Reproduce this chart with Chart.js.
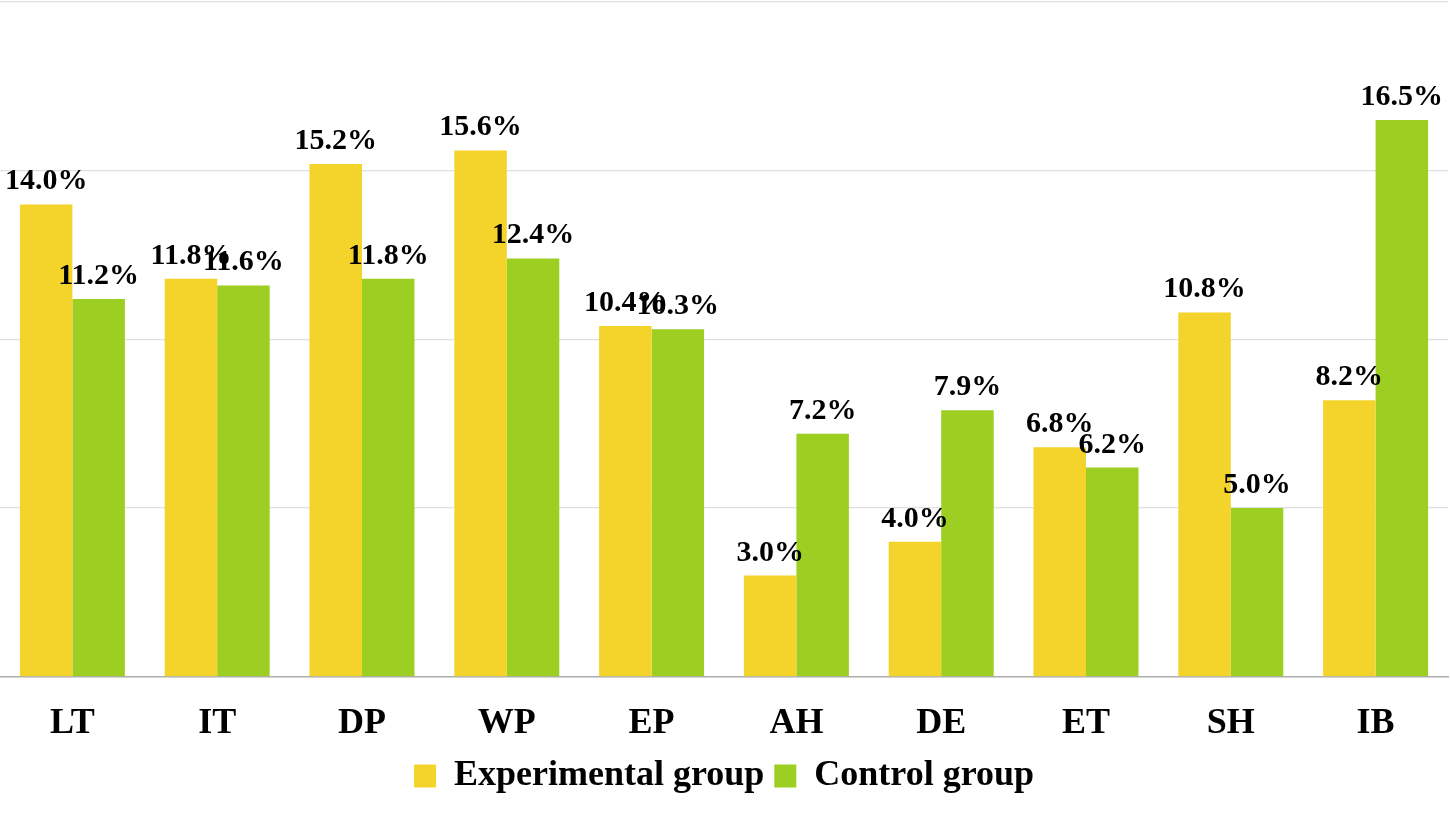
<!DOCTYPE html>
<html>
<head>
<meta charset="utf-8">
<script src="https://cdn.jsdelivr.net/npm/chart.js@4.4.1/dist/chart.umd.min.js"></script>
<style>
  html, body { margin: 0; padding: 0; background: #ffffff; }
  #wrap { width: 1450px; height: 816px; }
</style>
</head>
<body>
<div id="wrap"><canvas id="c"></canvas></div>
<script>
const categories = ["LT", "IT", "DP", "WP", "EP", "AH", "DE", "ET", "SH", "IB"];
const experimental = [14.0, 11.8, 15.2, 15.6, 10.4, 3.0, 4.0, 6.8, 10.8, 8.2];
const control = [11.2, 11.6, 11.8, 12.4, 10.3, 7.2, 7.9, 6.2, 5.0, 16.5];
const seriesNames = ["Experimental group", "Control group"];
const yTicks = [0, 5, 10, 15, 20];

const FONT = "'Times New Roman', 'Liberation Serif', serif";

const valueLabels = {
  id: 'valueLabels',
  afterDatasetsDraw(chart) {
    const ctx = chart.ctx;
    ctx.save();
    ctx.font = "bold 30px " + FONT;
    ctx.fillStyle = "#000";
    ctx.textAlign = "center";
    ctx.textBaseline = "alphabetic";
    chart.data.datasets.forEach((ds, di) => {
      const meta = chart.getDatasetMeta(di);
      meta.data.forEach((bar, i) => {
        ctx.fillText(ds.data[i].toFixed(1) + "%", bar.x, bar.y - 15);
      });
    });
    ctx.restore();
  }
};

new Chart(document.getElementById('c'), {
  type: 'bar',
  data: {
    labels: categories,
    datasets: [
      { label: seriesNames[0], data: experimental, backgroundColor: '#F4D32B' },
      { label: seriesNames[1], data: control, backgroundColor: '#9DCE22' }
    ]
  },
  options: {
    responsive: true,
    maintainAspectRatio: false,
    animation: false,
    devicePixelRatio: 1,
    datasets: { bar: { categoryPercentage: 0.725, barPercentage: 1.0 } },
    layout: { padding: { top: 2, left: 0, right: 2, bottom: 12 } },
    plugins: {
      legend: {
        position: 'bottom',
        labels: {
          font: { family: FONT, size: 36, weight: 'bold' },
          color: '#000',
          boxWidth: 22,
          boxHeight: 23,
          padding: 10
        }
      },
      tooltip: { enabled: false }
    },
    scales: {
      x: {
        grid: { display: false },
        border: { display: true, color: '#b0b0b0', width: 1.5 },
        ticks: { font: { family: FONT, size: 36, weight: 'bold' }, color: '#000', padding: 17 },
        afterFit(scale) { scale.height -= 14; }
      },
      y: {
        min: yTicks[0],
        max: yTicks[yTicks.length - 1],
        afterBuildTicks(axis) { axis.ticks = yTicks.map(v => ({ value: v })); },
        ticks: { display: false },
        grid: { color: '#e0e0e0', drawTicks: false, lineWidth: 1.2 },
        border: { display: false }
      }
    }
  },
  plugins: [valueLabels]
});
</script>
</body>
</html>
